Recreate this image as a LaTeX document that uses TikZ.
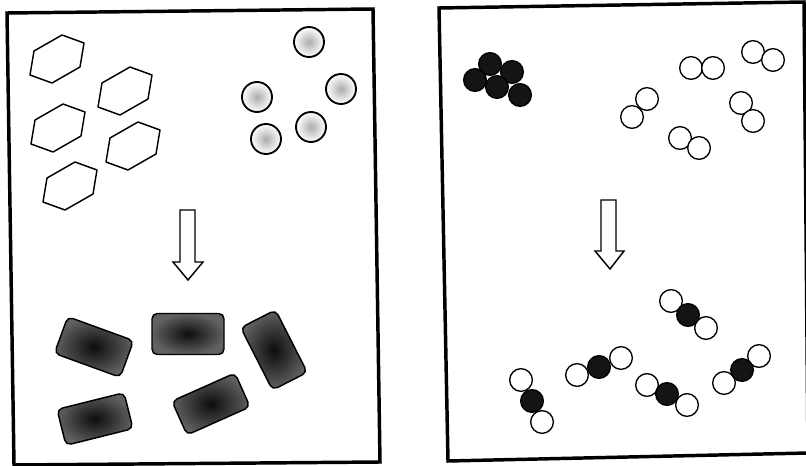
\documentclass[tikz,border=0pt]{standalone}
\usepackage{tikz}

% hexagono: centro en #1
\newcommand{\hexagono}[1]{%
  \draw[hexa, shift={#1}] (5,-24) -- (27,-16) -- (23,8) -- (-5,24) -- (-27,16) -- (-23,-8) -- cycle;}
% bloque oscuro: centro #1, giro #2, medias longitudes #3 y #4
\newcommand{\bloque}[4]{%
  \shadedraw[bloquegris, shift={#1}, rotate=#2] (-#3,-#4) rectangle (#3,#4);}

\begin{document}
\begin{tikzpicture}[x=0.75pt, y=-0.75pt, % 1 unidad = 1 pixel, y hacia abajo
    marco/.style={line width=2.6pt, line join=miter},
    hexa/.style={line width=1.1pt, line join=round},
    perla/.style={circle, draw, line width=1.4pt, minimum size=22.5pt, inner sep=0pt,
      inner color=gray!65, outer color=white},
    bloquegris/.style={line width=1.1pt, rounded corners=4pt, inner color=black!95, outer color=black!62},
    flecha/.style={line width=1.1pt, line join=miter, fill=white},
    atomo/.style={circle, draw, line width=1pt, fill=white, minimum size=17pt, inner sep=0pt},
    negro/.style={atomo, fill=black!92}]
    \useasboundingbox (0,0) rectangle (806,466);

    % Marcos
    \draw[marco] (7,13) -- (373,9) -- (380,462) -- (14,465) -- cycle;
    \draw[marco] (439,8) -- (804,2) -- (808,453) -- (448,461) -- cycle;

    % Panel izquierdo: hexagonos
    \hexagono{(57,59)}
    \hexagono{(125,91)}
    \hexagono{(58,128)}
    \hexagono{(133,146)}
    \hexagono{(70,186)}

    % Panel izquierdo: esferas punteadas
    \node[perla] (p1) at (309,42) {};
    \node[perla] (p2) at (257,97) {};
    \node[perla] (p3) at (341,89) {};
    \node[perla] (p4) at (311,127) {};
    \node[perla] (p5) at (266,139) {};

    % Flecha de reaccion (izquierda)
    \draw[flecha] (180,210) -- (195,210) -- (195,262) -- (203,262) -- (188,280)
      -- (173,262) -- (180,262) -- cycle;

    % Productos: bloques oscuros
    \bloque{(94,347)}{-20}{35}{19.5}
    \bloque{(188,334)}{0}{36}{20.5}
    \bloque{(274,350)}{-63}{35}{19.5}
    \bloque{(95,419)}{14}{34.5}{18.5}
    \bloque{(211,404)}{24}{34.5}{18.5}

    % Panel derecho: grupo de atomos negros
    \node[negro] (n1) at (490,64) {};
    \node[negro] (n2) at (475,80) {};
    \node[negro] (n3) at (512,72) {};
    \node[negro] (n4) at (497,87) {};
    \node[negro] (n5) at (520,95) {};

    % Moleculas blancas diatomicas
    \node[atomo] (a1) at (691,68) {};   \node[atomo] (a2) at (713,68) {};
    \node[atomo] (b1) at (753,52) {};   \node[atomo] (b2) at (773,60) {};
    \node[atomo] (c1) at (647,99) {};   \node[atomo] (c2) at (632,117) {};
    \node[atomo] (d1) at (741,103) {};  \node[atomo] (d2) at (753,121) {};
    \node[atomo] (e1) at (680,138) {};  \node[atomo] (e2) at (699,148) {};

    % Flecha de reaccion (derecha)
    \draw[flecha] (601,200) -- (616,200) -- (616,251) -- (624,251) -- (610,269)
      -- (595,251) -- (601,251) -- cycle;

    % Productos: blanco - negro - blanco
    \node[atomo] (t1a) at (671,301) {};  \node[atomo] (t1c) at (706,328) {};
    \node[negro] (t1b) at (688,315) {};
    \node[atomo] (t2a) at (577,375) {};  \node[atomo] (t2c) at (621,358) {};
    \node[negro] (t2b) at (599,367) {};
    \node[atomo] (t3a) at (521,380) {};  \node[atomo] (t3c) at (542,422) {};
    \node[negro] (t3b) at (532,401) {};
    \node[atomo] (t4a) at (647,385) {};  \node[atomo] (t4c) at (687,405) {};
    \node[negro] (t4b) at (667,394) {};
    \node[atomo] (t5a) at (724,383) {};  \node[atomo] (t5c) at (759,356) {};
    \node[negro] (t5b) at (742,370) {};
\end{tikzpicture}
\end{document}
